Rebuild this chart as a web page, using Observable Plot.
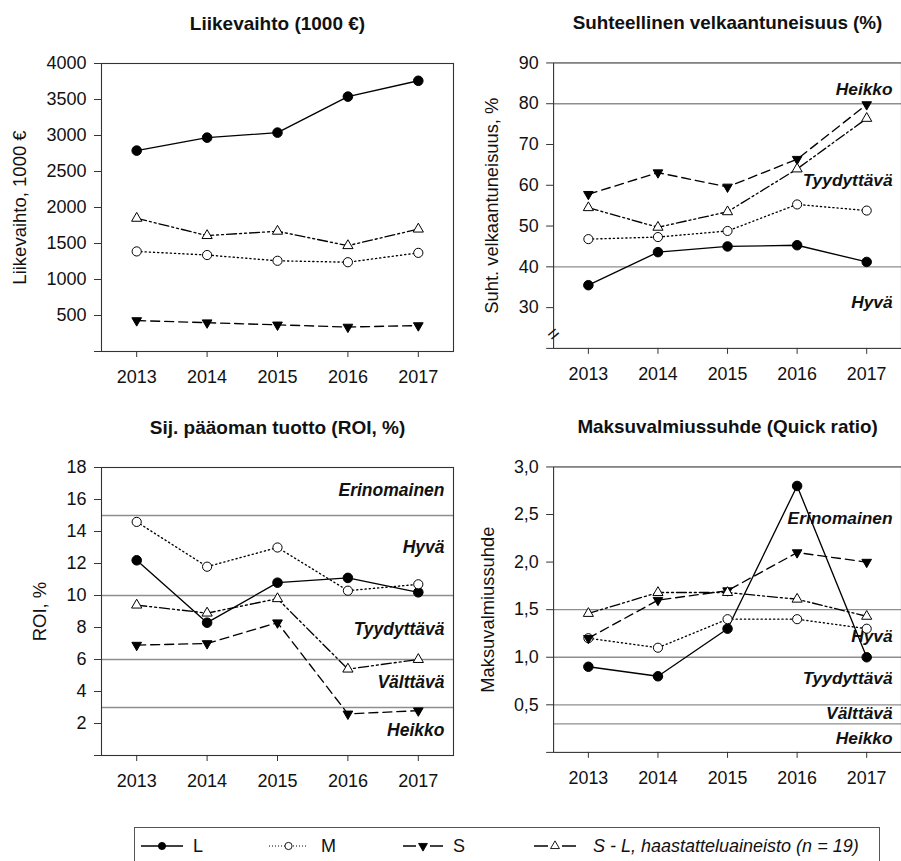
<!DOCTYPE html>
<html><head><meta charset="utf-8">
<script src="https://cdn.jsdelivr.net/npm/d3@7"></script>
<script src="https://cdn.jsdelivr.net/npm/@observablehq/plot@0.6"></script>
<style>
html,body{margin:0;padding:0;background:#fff;overflow:hidden;}
#root{position:relative;width:901px;height:861px;overflow:hidden;font-family:"Liberation Sans",Arial,sans-serif;}
.panel{position:absolute;}
.panel svg{overflow:visible}
#legend{position:absolute;left:134px;top:827px;width:746px;height:60px;border:1px solid #555;box-sizing:border-box;background:#fff}
</style></head><body><div id="root"></div>
<script>
// ---------- data ----------
const years = [2013, 2014, 2015, 2016, 2017];
const seriesKeys = ["L", "M", "S", "SL"];
const legendLabels = ["L", "M", "S", "S - L, haastatteluaineisto (n = 19)"];

// Liikevaihto (1000 €)
const revL  = [2790, 2970, 3040, 3540, 3760];
const revM  = [1390, 1340, 1260, 1240, 1370];
const revS  = [430, 400, 370, 340, 360];
const revSL = [1850, 1610, 1670, 1470, 1700];
const revTicks = [0, 500, 1000, 1500, 2000, 2500, 3000, 3500, 4000];

// Suhteellinen velkaantuneisuus (%)
const debtL  = [35.5, 43.6, 45.0, 45.3, 41.2];
const debtM  = [46.8, 47.3, 48.8, 55.3, 53.8];
const debtS  = [57.8, 63.1, 59.6, 66.4, 79.8];
const debtSL = [54.5, 49.7, 53.5, 64.0, 76.4];
const debtTicks = [20, 30, 40, 50, 60, 70, 80, 90];
const debtBands = [80, 40];
const debtBandLabels = ["Heikko", "Tyydyttävä", "Hyvä"];
const debtBandLabelY = [83.5, 61.3, 31.2];
const debtBreak = [23.5];

// Sij. pääoman tuotto (ROI, %)
const roiL  = [12.2, 8.3, 10.8, 11.1, 10.2];
const roiM  = [14.6, 11.8, 13.0, 10.3, 10.7];
const roiS  = [6.9, 7.0, 8.3, 2.6, 2.8];
const roiSL = [9.4, 8.9, 9.8, 5.4, 6.0];
const roiTicks = [0, 2, 4, 6, 8, 10, 12, 14, 16, 18];
const roiBands = [15, 10, 6, 3];
const roiBandLabels = ["Erinomainen", "Hyvä", "Tyydyttävä", "Välttävä", "Heikko"];
const roiBandLabelY = [16.6, 13.0, 7.9, 4.55, 1.6];

// Maksuvalmiussuhde (Quick ratio)
const qrL  = [0.9, 0.8, 1.3, 2.8, 1.0];
const qrM  = [1.2, 1.1, 1.4, 1.4, 1.3];
const qrS  = [1.2, 1.6, 1.7, 2.1, 2.0];
const qrSL = [1.46, 1.68, 1.68, 1.61, 1.43];
const qrTicks = [0, 0.5, 1.0, 1.5, 2.0, 2.5, 3.0];
const qrBands = [1.5, 1.0, 0.5, 0.3];
const qrBandLabels = ["Erinomainen", "Hyvä", "Tyydyttävä", "Välttävä", "Heikko"];
const qrBandLabelY = [2.46, 1.22, 0.78, 0.41, 0.145];

// ---------- styles ----------
const FONT = '"Liberation Sans", Arial, sans-serif';
const seriesStyle = {
  L:  {dash: null,            symbol: "circle",   fill: "black", r: 4.8, rotate: 0},
  M:  {dash: "1.2,3",         symbol: "circle",   fill: "white", r: 4.6, rotate: 0},
  S:  {dash: "9,5",           symbol: "triangle", fill: "black", r: 3.6, rotate: 180},
  SL: {dash: "10,3,2,3,2,3",  symbol: "triangle", fill: "white", r: 3.8, rotate: 0}
};

function rows(arrs) {
  const out = [];
  seriesKeys.forEach((k, si) => arrs[si].forEach((v, i) => out.push({series: k, year: years[i], value: v})));
  return out;
}

function panel(o) {
  const data = rows(o.series);
  const marks = [];
  if (o.bands) marks.push(Plot.ruleY(o.bands, {stroke: "#8e8e8e", strokeWidth: 1.4}));
  marks.push(Plot.frame({stroke: "#333", strokeWidth: 1.1}));
  marks.push(Plot.axisY({ticks: o.ticks, tickFormat: o.fmt, tickSize: 7, tickPadding: 8, label: null, stroke: "#333"}));
  marks.push(Plot.axisX({ticks: years, tickFormat: d => String(d), tickSize: 6, tickPadding: 13, label: null, stroke: "#333"}));
  if (o.breakAt) marks.push(Plot.text(o.breakAt, {y: d => d, frameAnchor: "left", textAnchor: "middle", text: () => "=", rotate: -40, fontSize: 20, fill: "#111"}));
  if (o.bandLabels) marks.push(Plot.text(o.bandLabels, {y: (d, i) => o.bandLabelY[i], text: d => d, frameAnchor: "right", dx: o.bandDx, textAnchor: "end", fontWeight: "bold", fontStyle: "italic", fontSize: 17.5, fill: "#111"}));
  for (const k of seriesKeys) {
    const st = seriesStyle[k];
    marks.push(Plot.line(data.filter(d => d.series === k), {x: "year", y: "value", stroke: "black", strokeWidth: 1.35, strokeDasharray: st.dash}));
  }
  for (const k of seriesKeys) {
    const st = seriesStyle[k];
    marks.push(Plot.dot(data.filter(d => d.series === k), {x: "year", y: "value", symbol: st.symbol, r: st.r, fill: st.fill, stroke: "black", strokeWidth: 1, rotate: st.rotate}));
  }
  marks.push(Plot.text([o.title], {frameAnchor: "top", dy: -40, text: d => d, fontWeight: "bold", fontSize: 19, lineAnchor: "middle", textAnchor: "middle", fill: "#111"}));
  marks.push(Plot.text([o.ylabel], {frameAnchor: "left", dx: o.labelDx, rotate: -90, text: d => d, fontSize: 18.5, lineAnchor: "middle", textAnchor: "middle", fill: "#111"}));

  const chart = Plot.plot({
    width: o.width, height: 400,
    marginLeft: o.marginLeft, marginRight: o.marginRight, marginTop: 63, marginBottom: 49,
    x: {type: "linear", domain: [2012.5, 2017.5]},
    y: {domain: o.domain},
    style: {fontFamily: FONT, fontSize: "18px", color: "#111", background: "transparent", overflow: "visible"},
    marks
  });
  const div = document.createElement("div");
  div.className = "panel";
  div.style.left = o.left + "px";
  div.style.top = o.top + "px";
  div.appendChild(chart);
  document.getElementById("root").appendChild(div);
}

const comma1 = d => d === 0 ? "" : d.toFixed(1).replace(".", ",");

panel({title: "Liikevaihto (1000 €)", ylabel: "Liikevaihto, 1000 €", domain: [0, 4000], ticks: revTicks,
  fmt: d => d === 0 ? "" : String(d), series: [revL, revM, revS, revSL],
  left: 0, top: 0, width: 460, marginLeft: 101, marginRight: 7, labelDx: -81});

panel({title: "Suhteellinen velkaantuneisuus (%)", ylabel: "Suht. velkaantuneisuus, %", domain: [20, 90], ticks: debtTicks,
  fmt: d => d === 20 ? "" : String(d), series: [debtL, debtM, debtS, debtSL],
  bands: debtBands, bandLabels: debtBandLabels, bandLabelY: debtBandLabelY, bandDx: -9, breakAt: debtBreak,
  left: 450, top: 0, width: 455, marginLeft: 104, marginRight: 0, labelDx: -62});

panel({title: "Sij. pääoman tuotto (ROI, %)", ylabel: "ROI, %", domain: [0, 18], ticks: roiTicks,
  fmt: d => d === 0 ? "" : String(d), series: [roiL, roiM, roiS, roiSL],
  bands: roiBands, bandLabels: roiBandLabels, bandLabelY: roiBandLabelY, bandDx: -9,
  left: 0, top: 404, width: 460, marginLeft: 101, marginRight: 7, labelDx: -61});

panel({title: "Maksuvalmiussuhde (Quick ratio)", ylabel: "Maksuvalmiussuhde", domain: [0, 3], ticks: qrTicks,
  fmt: comma1, series: [qrL, qrM, qrS, qrSL],
  bands: qrBands, bandLabels: qrBandLabels, bandLabelY: qrBandLabelY, bandDx: -9,
  left: 450, top: 404, width: 455, marginLeft: 104, marginRight: 0, labelDx: -66});

// ---------- legend ----------
const legend = d3.select("#root").append("div").attr("id", "legend");
const lsvg = legend.append("svg").attr("width", 746).attr("height", 60).style("font-family", FONT);
const legendPos = [
  {x0: 6, x1: 48, tx: 58},
  {x0: 134, x1: 173, tx: 186},
  {x0: 268, x1: 308, tx: 318},
  {x0: 399, x1: 441, tx: 458}
];
const cy = 18;
seriesKeys.forEach((k, i) => {
  const st = seriesStyle[k], p = legendPos[i];
  const g = lsvg.append("g");
  if (k === "L") {
    g.append("line").attr("x1", p.x0).attr("x2", p.x1).attr("y1", cy).attr("y2", cy).attr("stroke", "black").attr("stroke-width", 1.5);
  } else if (k === "M") {
    g.append("line").attr("x1", p.x0).attr("x2", p.x1).attr("y1", cy).attr("y2", cy).attr("stroke", "black").attr("stroke-width", 1).attr("stroke-dasharray", "1,2");
  } else {
    const m = (p.x0 + p.x1) / 2;
    g.append("line").attr("x1", p.x0).attr("x2", m - 7).attr("y1", cy).attr("y2", cy).attr("stroke", "black").attr("stroke-width", 1.5);
    g.append("line").attr("x1", m + 7).attr("x2", p.x1).attr("y1", cy).attr("y2", cy).attr("stroke", "black").attr("stroke-width", 1.5);
  }
  const mx = (p.x0 + p.x1) / 2;
  if (st.symbol === "circle") {
    g.append("circle").attr("cx", mx).attr("cy", cy).attr("r", 3.6).attr("fill", st.fill).attr("stroke", "black").attr("stroke-width", 0.9);
  } else {
    const sym = d3.symbol(d3.symbolTriangle, 34)();
    g.append("path").attr("d", sym).attr("transform", `translate(${mx},${cy}) rotate(${st.rotate})`)
      .attr("fill", st.fill).attr("stroke", "black").attr("stroke-width", 0.9);
  }
  lsvg.append("text").attr("x", p.tx).attr("y", cy).attr("dy", "0.35em").attr("font-size", 18)
    .attr("font-style", k === "SL" ? "italic" : "normal").attr("fill", "#111").text(legendLabels[i]);
});
</script></body></html>
